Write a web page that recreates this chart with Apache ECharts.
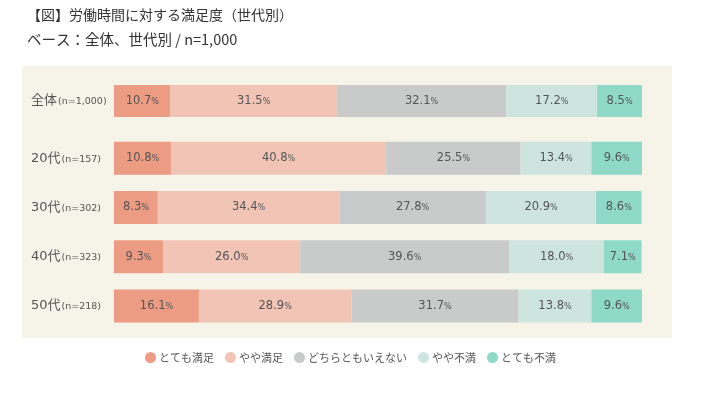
<!DOCTYPE html>
<html>
<head>
<meta charset="utf-8">
<script src="https://cdn.jsdelivr.net/npm/echarts@6/dist/echarts.min.js"></script>
<style>html,body{margin:0;padding:0;background:#fff;}#c{width:703px;height:395px;}</style>
</head>
<body>
<div id="c"></div>
<script>
var groups = ['全体', '20代', '30代', '40代', '50代'];
var sizes = ['n=1,000', 'n=157', 'n=302', 'n=323', 'n=218'];
var seriesNames = ['とても満足', 'やや満足', 'どちらともいえない', 'やや不満', 'とても不満'];
var verySatisfied = [10.7, 10.8, 8.3, 9.3, 16.1];
var somewhatSatisfied = [31.5, 40.8, 34.4, 26.0, 28.9];
var neither = [32.1, 25.5, 27.8, 39.6, 31.7];
var somewhatDissatisfied = [17.2, 13.4, 20.9, 18.0, 13.8];
var veryDissatisfied = [8.5, 9.6, 8.6, 7.1, 9.6];
var colors = ['#ec9c83', '#f1c4b6', '#c9cbca', '#cde5de', '#8ed9c8'];

var allValues = [verySatisfied, somewhatSatisfied, neither, somewhatDissatisfied, veryDissatisfied];
var labelsFor = groups.map(function (g, i) { return g + '(' + sizes[i] + ')'; });

function catLabel(v) {
  var idx = v.indexOf('(');
  return '{a|' + v.slice(0, idx) + '}{b|' + v.slice(idx) + '}';
}
var axisLabelCfg = {
  align: 'left', margin: 83, formatter: catLabel, fontFamily: 'DejaVu Sans',
  rich: {
    a: { fontSize: 13, color: '#555', fontFamily: 'DejaVu Sans, Noto Sans CJK JP' },
    b: { fontSize: 9.5, color: '#555', fontFamily: 'DejaVu Sans', padding: [2, 0, 0, 1] }
  }
};

function labelCfg() {
  return {
    show: true, position: 'inside', fontFamily: 'DejaVu Sans',
    formatter: function (p) { return '{v|' + p.value.toFixed(1) + '}{p|%}'; },
    rich: {
      v: { fontSize: 11.5, color: '#555', fontFamily: 'DejaVu Sans' },
      p: { fontSize: 8, color: '#555', fontFamily: 'DejaVu Sans', padding: [2, 0, 0, 0] }
    }
  };
}

var series = [];
seriesNames.forEach(function (name, s) {
  series.push({
    name: name, type: 'bar', stack: 'a', xAxisIndex: 0, yAxisIndex: 0,
    data: allValues[s].slice(0, 1), barWidth: 32,
    itemStyle: { color: colors[s] },
    label: labelCfg()
  });
  series.push({
    name: name, type: 'bar', stack: 'b', xAxisIndex: 1, yAxisIndex: 1,
    data: allValues[s].slice(1), barWidth: 33,
    itemStyle: { color: colors[s] },
    label: labelCfg()
  });
});

var chart = echarts.init(document.getElementById('c'));
chart.setOption({
  animation: false,
  backgroundColor: '#fff',
  title: {
    text: '【図】労働時間に対する満足度（世代別）',
    subtext: 'ベース：全体、世代別 / n=1,000',
    left: 22, top: 3, itemGap: 10,
    textStyle: { fontSize: 14, fontWeight: 'normal', color: '#333', fontFamily: 'Noto Sans CJK JP' },
    subtextStyle: { fontSize: 14.5, color: '#333', fontFamily: 'Noto Sans CJK JP' }
  },
  graphic: [{
    type: 'rect', z: -10, silent: true,
    shape: { x: 22, y: 66, width: 650, height: 272 },
    style: { fill: '#f6f4e9' }
  }],
  legend: {
    data: seriesNames, left: 140, top: 347, icon: 'circle',
    itemWidth: 11, itemHeight: 11, itemGap: 11,
    textStyle: { fontSize: 11, color: '#555', fontFamily: 'Noto Sans CJK JP', padding: [0, 0, 0, -2] }
  },
  grid: [
    { left: 114, width: 528, top: 76.5, height: 49 },
    { left: 114, width: 528, top: 133.5, height: 197 }
  ],
  xAxis: [
    { type: 'value', gridIndex: 0, min: 0, max: 'dataMax', show: false },
    { type: 'value', gridIndex: 1, min: 0, max: 'dataMax', show: false }
  ],
  yAxis: [
    { type: 'category', gridIndex: 0, data: labelsFor.slice(0, 1), inverse: true,
      axisLine: { show: false }, axisTick: { show: false }, axisLabel: axisLabelCfg },
    { type: 'category', gridIndex: 1, data: labelsFor.slice(1), inverse: true,
      axisLine: { show: false }, axisTick: { show: false }, axisLabel: axisLabelCfg }
  ],
  series: series
});
</script>
</body>
</html>
